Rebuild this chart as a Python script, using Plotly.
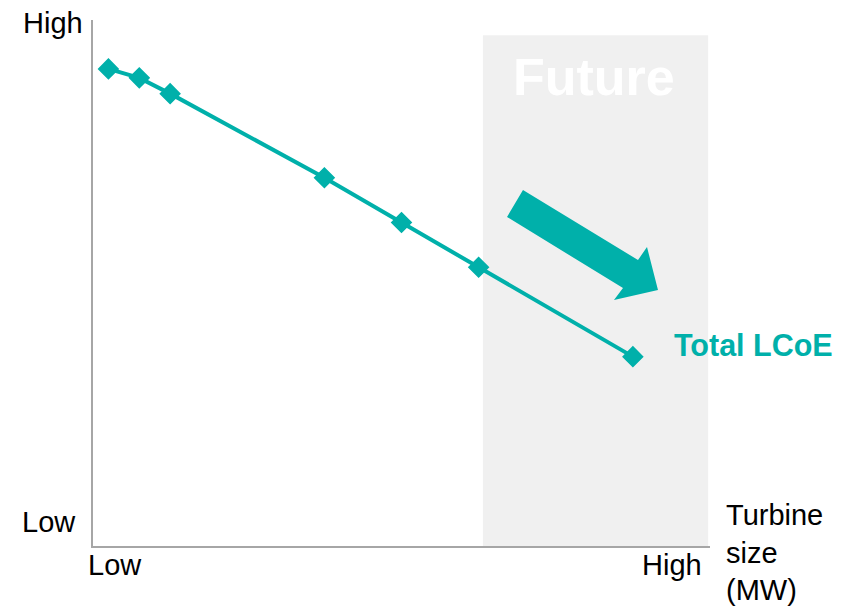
import plotly.graph_objects as go

# Turbine size (relative scale 0-10) and total levelised cost of energy (relative 0-10)
turbine_size = [0.25, 0.75, 1.25, 3.75, 5.0, 6.25, 8.75]
total_lcoe = [9.07, 8.9, 8.6, 7.0, 6.15, 5.3, 3.6]
series_name = "Total LCoE"
future_start, future_end, future_top = 6.32, 9.97, 9.71

TEAL = "#00B0AA"
FONT = "Liberation Sans, Arial, sans-serif"

W, H = 857, 606
L, R, T, B = 93, 147, 20, 60
XR = (0, 10)
YR = (0, 10)
PW, PH = W - L - R, H - T - B


def px_x(px):
    return XR[0] + (px - L) / PW * (XR[1] - XR[0])


def px_y(py):
    return YR[0] + (H - B - py) / PH * (YR[1] - YR[0])


fig = go.Figure()
fig.add_trace(go.Scatter(
    x=turbine_size, y=total_lcoe, mode="lines+markers", name=series_name,
    line=dict(color=TEAL, width=4),
    marker=dict(symbol="diamond", size=15, color=TEAL, line=dict(color=TEAL, width=1.5)),
    showlegend=False, cliponaxis=False,
))

# shaded "future" region
fig.add_shape(type="rect", x0=future_start, x1=future_end, y0=0, y1=future_top,
              fillcolor="#F0F0F0", line=dict(width=0), layer="below")

# trend arrow
arrow_pts = [(523, 190), (638, 260), (647, 247), (658, 290), (614, 300), (623, 288), (507, 217)]
path = "M " + " L ".join(f"{px_x(a):.3f},{px_y(b):.3f}" for a, b in arrow_pts) + " Z"
fig.add_shape(type="path", path=path, fillcolor=TEAL, line=dict(width=0), layer="above")

ann = []


def label(text, px, py, size=29, color="black", bold=False, xanchor="center", yanchor="middle", align="center"):
    if bold:
        text = f"<b>{text}</b>"
    ann.append(dict(text=text, x=(px - L) / PW, y=(H - B - py) / PH, xref="paper", yref="paper",
                    showarrow=False, xanchor=xanchor, yanchor=yanchor, align=align,
                    font=dict(family=FONT, size=size, color=color)))


label("Future", 594, 77, size=52, color="#FFFFFF", bold=True)
label(series_name, 672, 345, size=30.5, color=TEAL, bold=True, xanchor="left")
label("High", 53, 23)
label("Low", 49, 522)
label("Low", 115, 565)
label("High", 672, 565)
label("Turbine<br>size<br>(MW)", 724, 497, size=29, xanchor="left", yanchor="top", align="left")

fig.update_layout(
    width=W, height=H,
    margin=dict(l=L, r=R, t=T, b=B, pad=0),
    paper_bgcolor="white", plot_bgcolor="white",
    annotations=ann,
    xaxis=dict(range=list(XR), showgrid=False, zeroline=False, showticklabels=False, ticks="",
               showline=True, linecolor="#A6A6A6", linewidth=1.5, fixedrange=True),
    yaxis=dict(range=list(YR), showgrid=False, zeroline=False, showticklabels=False, ticks="",
               showline=True, linecolor="#A6A6A6", linewidth=1.5, fixedrange=True),
)

fig.write_html("out.html")
